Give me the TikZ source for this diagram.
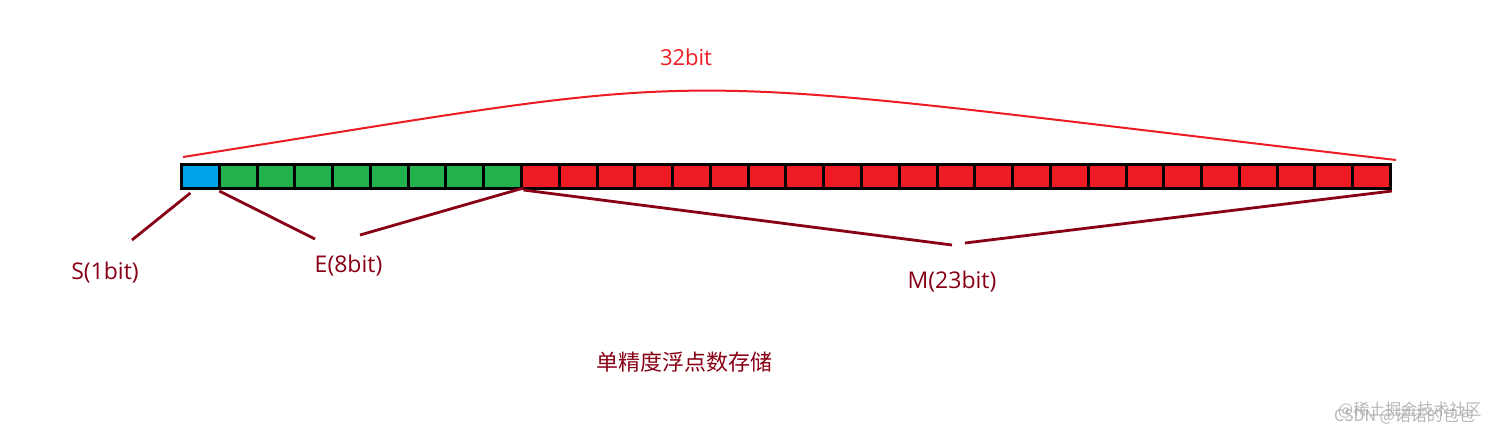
\documentclass[tikz,border=0pt]{standalone}
\usepackage{fontspec}
\setmainfont{Open Sans}
\newfontfamily\cjk{Noto Sans CJK SC}
\usetikzlibrary{calc}
\definecolor{cblue}{HTML}{00A2E8}
\definecolor{cgreen}{HTML}{22B14C}
\definecolor{cred}{HTML}{ED1C24}
\definecolor{cdark}{HTML}{880015}
\begin{document}
\begin{tikzpicture}[x=1pt,y=-1pt,
  cell/.style={draw=black,line width=3pt,minimum width=37.78pt,minimum height=24pt,inner sep=0pt,outer sep=0pt},
  lbl/.style={text=cdark,font=\fontsize{23}{27}\selectfont,inner sep=0pt},
  conn/.style={draw=cdark,line width=2.8pt},
  wm/.style={text=black!35,font=\cjk\fontsize{16}{18}\selectfont,inner sep=0pt,opacity=0.8}]
\useasboundingbox (0,0) rectangle (1512,439);
\fill[white] (0,0) rectangle (1512,439);
% bits
\node[cell,fill=cblue] (b0) at (200.39,176.5) {};
\foreach \i in {1,...,8} {\node[cell,fill=cgreen] (b\i) at ({200.39+37.78*\i},176.5) {};}
\foreach \i in {9,...,31} {\node[cell,fill=cred] (b\i) at ({200.39+37.78*\i},176.5) {};}
% labels
\node[text=cred,font=\fontsize{22}{26}\selectfont,inner sep=0pt] (top) at (686,57) {32bit};
\node[lbl] (s) at (105,273) {S(1bit)};
\node[lbl] (e) at (348.5,266) {E(8bit)};
\node[lbl] (m) at (952,282) {M(23bit)};
\node[text=cdark,font=\cjk\fontsize{22}{25}\selectfont,inner sep=0pt] (title) at (684,362) {单精度浮点数存储};
\node[wm,anchor=west] (wm1) at (1334,416) {CSDN @诺诺的包包};
\node[wm,anchor=west] (wm2) at (1338,410) {@稀土掘金技术社区};
% free ends
\coordinate (arcL) at (183,157);
\coordinate (arcR) at (1396,160);
\coordinate (sEnd) at (132,240);
\coordinate (eL) at (315,239);
\coordinate (eR) at (360,235);
\coordinate (mL) at (952,245);
\coordinate (mR) at (965,243);
% arc
\draw[cred,line width=2pt] (arcL) .. controls (760,66) and (620,70) .. (arcR);
% connectors
\draw[conn] ($(b0.south)+(-10,4.5)$) -- (sEnd);
\draw[conn] ($(b1.south west)+(0,2.5)$) -- (eL);
\draw[conn] ($(b8.south east)+(2,-0.5)$) -- (eR);
\draw[conn] ($(b8.south east)+(2,1.5)$) -- (mL);
\draw[conn] (mR) -- ($(b31.south east)+(1.5,2.5)$);
\end{tikzpicture}
\end{document}
